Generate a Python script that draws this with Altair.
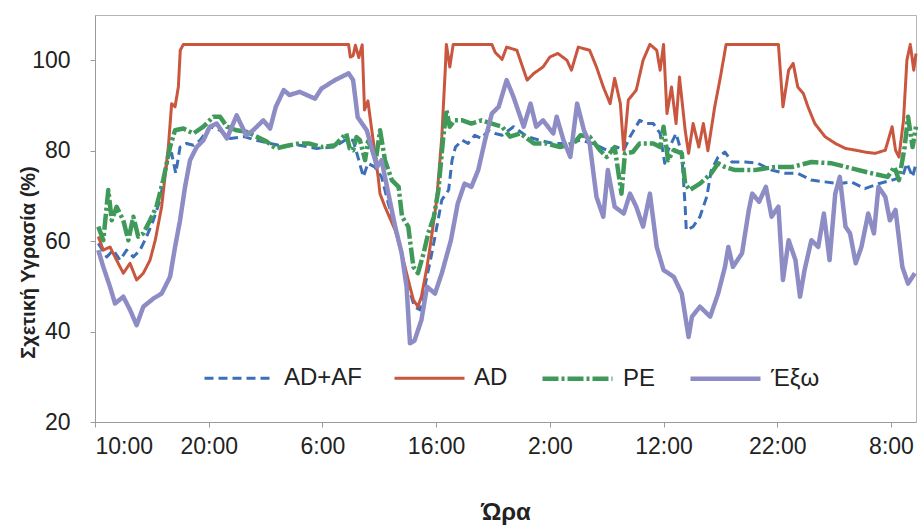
import altair as alt
import pandas as pd

# hours after the first 10:00 reading
adaf_h = [0.29,1.03,1.61,2.2,2.78,3.37,3.96,4.54,5.13,5.72,6.3,6.74,7.1,7.48,8.06,8.65,9.24,10.1,11.0,11.9,13.1,14.2,15.4,16.5,18.0,19.5,21.0,22.1,22.7,23.2,23.6,24.0,24.6,25.2,25.8,26.4,26.97,27.55,28.1,28.6,29.0,29.5,29.9,30.5,31.1,31.4,31.7,32.3,32.8,33.4,34.0,34.6,35.2,35.8,36.8,38.0,39.1,40.3,41.5,42.7,43.8,45.0,45.9,46.5,47.05,47.9,48.5,49.1,49.7,50.1,50.4,51.1,51.6,51.9,52.0,52.6,53.2,53.8,54.2,54.8,55.4,56.0,57.2,58.3,59.5,60.7,61.8,63.0,64.2,65.4,66.5,67.7,68.9,70.1,71.0,71.4,71.9,72.2]
adaf_v = [59.5,56.5,58,55.8,58,56.5,58,61,64.6,69.1,77.2,79.4,75,80.8,81.6,81.2,82.3,85.3,84.5,82.7,83.1,82.3,81.6,81,81.2,80.5,80.8,82.5,82.3,77.9,74.2,77.2,76.4,74.2,68.3,63.2,57.3,49.9,45.5,44.8,49.9,55.8,61,69.1,71.3,77.9,80.8,82.3,81.6,83.4,82.7,84.5,83.8,83.4,85.3,83.1,82.3,81.6,81.6,82.3,81.6,80.1,80.8,80.1,83.1,86.7,86,86,83.8,77.2,80.1,83.8,79.4,67.6,62.4,63.2,65.4,69.8,75.7,78.6,79.7,77.5,77.5,77.2,75.7,75,75,73.5,73.1,72.7,73.1,71.6,72.7,73.5,74.2,77.2,74.2,77.2]

ad_h = [0.29,0.73,1.32,1.9,2.49,3.08,3.66,4.25,4.84,5.3,5.86,6.45,6.74,7.04,7.33,7.5,7.77,10.0,12.0,14.0,16.0,18.0,20.0,22.3,22.45,22.7,22.9,23.2,23.5,23.7,24.0,24.3,24.9,25.06,25.5,26.4,26.97,27.55,28.0,28.4,28.7,29.2,29.6,30.05,30.5,30.8,30.9,31.2,31.5,33.0,34.9,35.2,35.8,36.2,37.1,38.0,38.6,39.4,40.0,40.7,41.5,41.9,42.5,43.5,44.1,44.7,45.3,45.7,46.2,46.5,46.9,47.6,48.2,48.8,49.4,49.7,50.0,50.3,50.7,51.1,51.4,51.9,52.2,52.6,53.1,53.5,53.9,54.5,55.0,55.5,57.5,59.0,60.1,60.5,61.0,61.4,61.8,62.3,62.7,63.3,64.2,65.1,66.0,66.9,67.7,68.6,69.5,70.1,70.4,70.7,71.1,71.4,71.7,72.0,72.2]
ad_v = [61,58,58.7,55.8,52.9,55.1,51.4,52.9,55.8,60.2,67.6,80.8,90.4,89.7,94.1,102.2,103.5,103.5,103.5,103.5,103.5,103.5,103.5,103.5,100.7,101,103.3,100.6,103.4,89,91,85.3,74.2,70.5,67.6,62.4,57.3,51.4,47,45.5,47.7,54.3,61,69.1,83.1,97.8,103.5,98.5,103.5,103.5,103.5,101.7,100.2,102.9,102.2,95.6,97.1,98.5,100.7,101.5,100,97.8,102.9,102.2,98.5,94.1,90.4,96,90.4,80.1,91.2,93.4,100,103.5,102.2,97.8,103.5,88.2,94.1,86,96.3,84.5,79.4,86,80.8,86,80,89.7,96.3,103.5,103.5,103.5,103.5,89.7,97.8,99.3,94.1,92.6,89.7,86,83.1,81.6,80.5,80.1,79.7,79.4,80.1,85.3,80.1,78.6,86.7,100,103.5,97.8,101.5]

pe_h = [0.29,0.73,1.17,1.47,1.9,2.49,2.93,3.37,3.8,4.25,4.84,5.4,6.0,6.6,7.04,7.77,8.65,9.53,10.4,11.0,11.6,12.46,13.3,14.2,15.1,15.9,17.1,18.0,18.8,19.9,21.1,22.1,22.4,22.7,23.0,23.3,23.75,24.0,24.3,24.7,25.07,25.5,26.1,26.7,27.0,27.55,28.0,28.4,28.9,29.3,29.8,30.2,30.6,30.9,31.2,31.6,32.3,33.1,34.0,34.9,35.8,36.5,37.4,38.6,39.7,40.9,42.1,42.7,43.5,44.4,45.0,45.7,46.3,46.6,47.3,47.9,49.1,49.7,50.0,50.4,50.9,51.6,51.9,52.3,53.2,54.2,54.8,55.4,56.3,58.0,59.8,61.3,63.0,64.8,66.5,68.3,69.7,70.3,70.7,71.2,71.5,71.9,72.2]
pe_v = [63.2,60.2,71.3,64.6,67.6,64.6,60.2,65.4,61,61.7,64.6,67.6,73.5,80.8,84.5,84.9,83.8,85.3,87.5,87.5,85.3,84.5,84.2,83.1,82,80.5,81.2,81.6,81.6,80.8,81.2,83.8,80.5,80.1,83,82.3,77.9,82,80.8,78,84.5,77.9,73.5,72,65.4,63.2,54.3,52.9,57.3,61.7,65.4,71.3,82.3,89,85.3,86.7,86.7,86,86.7,86,85.3,83.1,83.8,81.6,81.6,80.8,81.6,83.4,83.1,80.1,78.6,80.8,70.5,79.4,79.7,81.6,81.6,80.8,85.3,77.9,80.1,79.4,72.7,71.3,72.7,75,77.2,76.4,75.7,75.7,76.4,76.4,77.5,77.2,76.1,75,74.2,76.4,73.5,80.8,87.5,80.8,85.3]

out_h = [0.29,0.73,1.32,1.76,2.49,3.08,3.66,4.25,5.13,5.86,6.6,7.04,7.48,7.92,8.36,8.94,9.53,10.1,10.7,11.6,12.46,13.3,13.9,14.8,15.4,15.9,16.6,17.1,18.0,19.35,19.9,21.1,22.3,22.7,23.1,23.9,24.8,25.2,25.8,26.4,26.97,27.4,27.7,28.1,28.7,29.2,29.9,30.5,31.3,31.9,32.5,33.1,33.7,34.3,34.9,35.5,36.2,36.8,37.7,38.3,38.8,39.4,40.3,40.6,41.2,41.8,42.4,43.0,43.5,44.1,44.7,45.1,45.7,46.5,47.05,47.6,48.2,48.8,49.4,50.0,50.9,51.6,52.2,52.5,53.2,54.1,54.8,55.4,55.7,56.1,56.9,57.5,57.8,58.4,59.0,59.5,60.1,60.5,61.0,61.6,62.0,62.4,63.0,63.6,64.1,64.6,65.1,65.5,66.0,66.4,66.9,67.4,68.0,68.5,68.9,69.5,69.9,70.4,71.0,71.5,72.1]
out_v = [58,54.3,49.9,46.2,47.7,44.8,41.4,45.5,47.3,48.4,52.1,58.7,64.6,72,77.9,80.8,82.3,85.3,86,82.7,87.8,83.4,84.5,86.7,84.9,89.7,93.4,92.3,93,91.5,93.7,95.6,97.1,95.6,87.4,84.5,76.4,77.9,70.5,63.2,57.3,49.9,37.4,38,42.5,49.9,48.4,52.9,60.2,68.3,72.7,72,75.7,82.3,88.2,89.7,95.6,91.9,85.3,90.4,85.3,86.7,83.8,87.5,82.3,78.6,90.4,84.5,81.6,69.8,65.4,75.7,67.6,66.1,70.5,67.6,63.2,70.5,58.7,53.6,52.1,48.4,38.8,43.3,45.5,43.3,48.4,54.3,58.7,54.3,57.3,66.9,70.5,68.7,72,65.4,67.6,51.4,60.2,55.8,47.7,53.6,60.2,58.7,66.1,55.8,70.5,74.2,63.2,61.7,55.1,58.7,66.1,61.7,72,69.8,64.6,66.9,54.3,50.6,52.9]

series_names = ["AD+AF", "AD", "PE", "Έξω"]
series_colors = ["#3d6fb8", "#c9573f", "#3f9a5a", "#8d8cc4"]
series_dash = [[9, 5], [1, 0], [16, 3, 3, 3], [1, 0]]
series_width = [3, 3, 4.5, 4.5]
x_ticks = [0, 10, 20, 30, 40, 50, 60, 70]
y_ticks = [20, 40, 60, 80, 100]

rows = []
for name, hs, vs in [("AD+AF", adaf_h, adaf_v), ("AD", ad_h, ad_v), ("PE", pe_h, pe_v), ("Έξω", out_h, out_v)]:
    assert len(hs) == len(vs), name
    for i, (h, v) in enumerate(zip(hs, vs)):
        rows.append({"series": name, "h": h, "rh": v, "i": i})
df = pd.DataFrame(rows)

FONT = "Liberation Sans"

chart = alt.Chart(df).mark_line(strokeJoin="round").encode(
    x=alt.X("h:Q", scale=alt.Scale(domain=[0, 72.2], nice=False, zero=False),
            axis=alt.Axis(values=x_ticks, labelExpr="((datum.value + 10) % 24) + ':00'",
                          title="Ώρα", grid=False, tickSize=5, labelPadding=8,
                          titlePadding=42, titleFontSize=24)),
    y=alt.Y("rh:Q", scale=alt.Scale(domain=[20, 110], nice=False, zero=False),
            axis=alt.Axis(values=y_ticks, title="Σχετική Υγρασία (%)", grid=False,
                          tickSize=5, labelPadding=20, titlePadding=-7, titleFontSize=20,
                          titleY=247)),
    color=alt.Color("series:N", scale=alt.Scale(domain=series_names, range=series_colors),
                    legend=alt.Legend(title=None, orient="none", direction="horizontal",
                                      legendX=108, legendY=326, symbolType="stroke",
                                      symbolSize=4900, labelFontSize=24, labelOffset=8,
                                      columnPadding=25, labelFont=FONT, labelColor="#222")),
    strokeDash=alt.StrokeDash("series:N", scale=alt.Scale(domain=series_names, range=series_dash), legend=None),
    strokeWidth=alt.StrokeWidth("series:N", scale=alt.Scale(type="ordinal", domain=series_names, range=series_width), legend=None),
    order="i:Q",
).properties(
    width=821, height=407,
    autosize=alt.AutoSizeParams(type="none"),
    padding={"left": 95, "top": 15, "right": 3, "bottom": 105},
).configure_view(
    stroke="#b5b5b5"
).configure_axis(
    labelFont=FONT, titleFont=FONT, labelFontSize=23, labelColor="#222",
    titleColor="#222", titleFontWeight="bold", domainColor="#9a9a9a", tickColor="#9a9a9a"
).configure_legend(padding=0)

chart.save("out.html", embed_options={"renderer": "svg", "actions": False})
